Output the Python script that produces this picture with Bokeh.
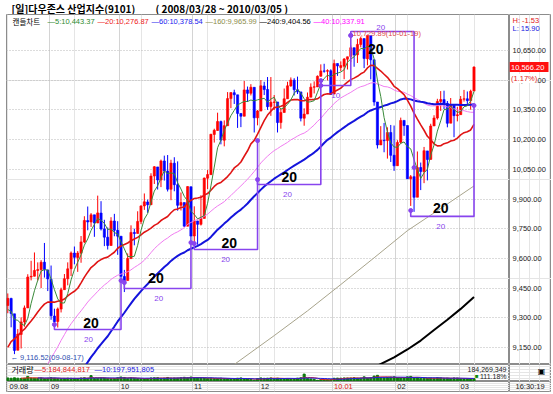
import numpy as np
from bokeh.plotting import figure
from bokeh.models import Range1d, FixedTicker, Grid, ColumnDataSource
from bokeh.layouts import column, row
from bokeh.core.properties import value
from bokeh.embed import file_html
from bokeh.resources import INLINE

# ---------------- data: Dow Jones Industrial Average, daily, 2009-08-13 .. 2010-03-05 ----------------
pre_close = [8504.08, 8474.85, 8422.04, 8292.13, 8277.32, 8473.49, 8300.02, 8403.80, 8500.33,
             8721.44, 8740.87, 8675.24, 8750.24, 8763.13, 8764.49, 8763.06, 8739.02, 8770.92, 8799.26,
             8612.13, 8504.67, 8497.18, 8555.60, 8539.73, 8339.01, 8322.91, 8299.86, 8472.40, 8438.39,
             8529.38, 8447.00,
             8504.06, 8280.74, 8324.87, 8163.60, 8178.41, 8183.17, 8146.52, 8331.68, 8359.49, 8616.21,
             8711.82, 8743.94, 8848.15, 8915.94, 8881.26, 9069.29, 9093.24, 9108.51, 9096.72, 9070.72,
             9154.46, 9171.61,
             9286.56, 9320.19, 9280.97, 9256.26, 9370.07, 9337.95, 9241.45, 9361.61]

close = [9398.19, 9321.40, 9135.34, 9217.94, 9279.16, 9350.05, 9505.96, 9509.28, 9539.29, 9543.52, 9580.63, 9544.20, 9496.28,
         9310.60, 9280.67, 9344.61, 9441.27, 9497.34, 9547.22, 9627.48, 9605.41, 9626.80, 9683.41, 9791.71, 9783.92, 9820.20,
         9778.86, 9829.87, 9748.55, 9707.44, 9665.19, 9789.36, 9742.20, 9712.28,
         9509.28, 9487.67, 9599.75, 9731.25, 9725.58, 9786.87, 9864.94, 9885.80, 9871.06, 10015.86, 10062.94, 9995.91,
         10092.19, 10041.48, 9949.36, 10081.31, 9972.18, 9867.96, 9882.17, 9762.69, 9962.58, 9712.73,
         9789.44, 9771.91, 9802.14, 10005.96, 10023.42, 10226.94, 10246.97, 10291.26, 10197.47, 10270.47, 10406.96,
         10437.42, 10426.31, 10332.44, 10318.16, 10450.95, 10433.71, 10464.40, 10309.92, 10344.84,
         10471.58, 10452.68, 10366.15, 10388.90, 10390.11, 10285.97, 10337.05, 10405.83, 10471.50, 10501.05, 10452.00,
         10441.12, 10308.26, 10328.89, 10414.14, 10464.93, 10466.44, 10520.10, 10547.08, 10545.41, 10548.51, 10428.05,
         10583.96, 10572.02, 10573.68, 10606.86, 10618.19, 10663.99, 10627.26, 10680.77, 10710.55, 10609.65, 10725.43,
         10603.15, 10389.88, 10172.98, 10196.86, 10194.29, 10236.16, 10120.46, 10067.33,
         10185.53, 10296.85, 10270.55, 10002.18, 10012.23, 9908.39, 10058.64, 10038.38, 10144.19, 10099.14, 10268.81,
         10309.24, 10392.90, 10402.35, 10383.38, 10282.41, 10374.16, 10321.03, 10325.26,
         10403.79, 10405.98, 10396.76, 10444.14, 10566.20]

open_ = [9362, 9398, 9320, 9136, 9216, 9279, 9350, 9506, 9510, 9539, 9543, 9581, 9542,
         9494, 9309, 9281, 9344, 9442, 9497, 9548, 9627, 9604, 9626, 9683, 9791, 9784, 9820, 9779, 9829, 9749, 9707,
         9665, 9789, 9742,
         9712, 9509, 9488, 9599, 9731, 9726, 9786, 9865, 9885, 9871, 10016, 10062, 9996, 10092, 10041, 9949, 10081,
         9972, 9868, 9882, 9763, 9962,
         9713, 9789, 9772, 9802, 10005, 10023, 10226, 10246, 10291, 10197, 10270, 10407, 10437, 10426, 10332, 10318,
         10451, 10434, 10464, 10310,
         10344, 10471, 10453, 10367, 10388, 10390, 10286, 10337, 10406, 10471, 10500, 10452, 10441, 10308, 10329,
         10414, 10465, 10466, 10520, 10547, 10545, 10548,
         10430, 10584, 10564, 10571, 10606, 10620, 10664, 10628, 10680, 10710, 10608, 10725, 10603, 10390, 10173,
         10197, 10195, 10236, 10121,
         10068, 10186, 10297, 10271, 10002, 10013, 9909, 10059, 10038, 10143, 10100, 10269, 10309, 10393, 10402,
         10383, 10283, 10374, 10321,
         10326, 10404, 10406, 10397, 10445]

high = [9423, 9401, 9320, 9243, 9302, 9362, 9520, 9588, 9630, 9580, 9591, 9678, 9542,
        9564, 9346, 9352, 9452, 9521, 9580, 9635, 9660, 9637, 9713, 9813, 9862, 9829, 9820, 9917, 9889, 9795, 9756,
        9808, 9825, 9788,
        9712, 9542, 9625, 9767, 9750, 9838, 9868, 9928, 9897, 10030, 10066, 10062, 10099, 10119, 10122, 10098, 10111,
        10090, 9933, 9882, 9964, 9962,
        9863, 9790, 9919, 10008, 10046, 10229, 10255, 10336, 10296, 10297, 10440, 10438, 10452, 10426, 10333, 10496,
        10468, 10480, 10464, 10349,
        10501, 10492, 10516, 10516, 10425, 10390, 10357, 10458, 10492, 10514, 10510, 10518, 10441, 10358, 10438,
        10484, 10494, 10524, 10580, 10583, 10555, 10555,
        10604, 10584, 10595, 10612, 10619, 10676, 10664, 10709, 10720, 10710, 10729.89, 10725, 10603, 10390, 10268,
        10284, 10262, 10274, 10271,
        10197, 10311, 10298, 10271, 10021, 10059, 10140, 10084, 10163, 10143, 10280, 10323, 10406, 10445, 10447,
        10395, 10410, 10374, 10366,
        10420, 10451, 10443, 10452, 10570]

low = [9323, 9252, 9116.52, 9136, 9145, 9255, 9349, 9489, 9509, 9488, 9450, 9503, 9435,
       9290, 9253, 9251, 9327, 9442, 9464, 9511, 9570, 9532, 9578, 9677, 9742, 9759, 9709, 9778, 9741, 9662, 9645,
       9664, 9712, 9618,
       9489, 9430, 9488, 9599, 9666, 9726, 9773, 9845, 9830, 9870, 9976, 9948, 9960, 9993, 9938, 9894, 9939,
       9841, 9842, 9760, 9762, 9679,
       9681, 9669, 9766, 9802, 9950, 10023, 10185, 10245, 10176, 10166, 10270, 10359, 10380, 10259, 10263, 10318,
       10390, 10423, 10236, 10272,
       10344, 10425, 10350, 10320, 10350, 10236, 10255, 10337, 10406, 10467, 10423, 10430, 10292, 10270, 10329,
       10414, 10433, 10466, 10518, 10538, 10499, 10428,
       10430, 10522, 10546, 10505, 10554, 10591, 10568, 10587, 10666, 10561, 10575, 10504, 10371, 10155, 10173,
       10136, 10104, 10087, 10042,
       10068, 10180, 10219, 10001, 9865, 9835.09, 9909, 9945, 9980, 9994, 10100, 10269, 10301, 10345, 10354,
       10262, 10283, 10212, 10292,
       10326, 10392, 10373, 10351, 10445]

volume_m = [230, 210, 240, 215, 200, 215, 330, 220, 215, 205, 225, 200, 215,
            245, 220, 195, 180, 200, 215, 205, 200, 195, 225, 240, 210, 380, 195, 210, 230, 220, 210, 185, 200, 240,
            290, 260, 200, 230, 210, 190, 180, 165, 200, 230, 240, 245, 200, 215, 260, 210, 225, 220, 240, 270, 240, 290,
            250, 240, 235, 220, 200, 215, 190, 200, 210, 195, 190, 175, 170, 210, 230, 175, 165, 140, 85, 190,
            230, 205, 215, 230, 190, 215, 190, 180, 195, 180, 190, 215, 240, 480, 190, 165, 140, 80, 120, 110, 115, 120,
            210, 220, 215, 230, 225, 225, 240, 215, 220, 300, 220, 240, 350, 400, 260, 240, 260, 280, 300,
            240, 230, 225, 300, 330, 250, 245, 200, 215, 210, 225, 210, 240, 230, 200, 215, 195, 225, 220,
            175, 190, 182, 193, 184.27]

# long moving averages (index of trading day, value)
ma160_i = [66, 80, 90, 100, 110, 120, 130, 140]
ma160_v = [9040, 9210, 9335, 9468, 9603, 9740, 9852, 9965.99]
ma240_i = [110, 116, 120, 124, 128, 132, 136, 140]
ma240_v = [9050, 9100, 9140, 9185, 9238, 9290, 9345, 9404.56]

month_start = [13, 34, 56, 76, 98, 117, 136]
month_labels = ["09.08", "09", "10", "11", "12", "10.01", "02", "03"]
price_ticks = [9150, 9300, 9450, 9600, 9750, 9900, 10050, 10200, 10350, 10500, 10650]
price_tick_labels = ["9,150.00", "9,300.00", "9,450.00", "9,600.00", "9,750.00", "9,900.00",
                     "10,050.00", "10,200.00", "10,350.00", "10,500.00", "10,650.00"]
last_price = 10566.20

# 20-day cycle brackets: start index, end index, start price, base price, end price
cyc_s = [14, 35, 56, 75, 94, 103, 121]
cyc_e = [34, 55, 75, 94, 103, 122, 140]
cyc_p0 = [9266, 9478, 9675, 9998, 10473, 10726, 9842]
cyc_base = [9241, 9448, 9645, 9973, 10473, 10746, 9812]
cyc_p1 = [9488, 9680, 10195, 10498, 10726, 10059, 10372]
big_x = [25, 44.5, 66.5, 84.5, 110.5, 130]
big_y = [9276, 9503, 9680, 10009, 10660, 9857]
small_x = [24.2, 45.3, 65.4, 84, 112, 130, 98.5]
small_y = [9190, 9397, 9594, 9923, 10766, 9761, 10423]
small_t = ["20", "20", "20", "20", "20", "20", "10"]

# ---------------- helpers for placement ----------------
X0, XS = 7.3, 3.33
def px2i(px):
    return (px - X0) / XS
def py2p(py):
    return 10650 - (py - 50) / 0.198

n = len(close)
idx = np.arange(n)
allc = np.array(pre_close + close)
npre = len(pre_close)
def ma(k):
    return [float(allc[npre + j - k + 1: npre + j + 1].mean()) for j in range(n)]
vol = np.array(volume_m) * 1e6
def vma(k):
    return [float(vol[j - k + 1: j + 1].mean()) if j >= k - 1 else float("nan") for j in range(n)]

FONT = "Liberation Sans"
KFONT = "Noto Sans CJK KR"
PURPLE = "#8844ee"
EDGE = "#8c8c8c"

x_range = Range1d(px2i(6), px2i(509))

def base_fig(h, yr, bottom=0):
    f = figure(width=509, height=h, x_range=x_range, y_range=yr, output_backend="svg",
               toolbar_location=None, x_axis_location=None, y_axis_location=None, title=None,
               min_border_left=6, min_border_right=0, min_border_top=0, min_border_bottom=bottom)
    f.outline_line_color = EDGE
    f.background_fill_color = "white"
    f.border_fill_color = "white"
    f.add_layout(Grid(dimension=0, ticker=FixedTicker(ticks=[m - 0.5 for m in month_start]),
                      grid_line_color="#d4d4d4", grid_line_width=1))
    return f

def side_fig(h, yr, bottom=0):
    f = figure(width=42, height=h, x_range=Range1d(0, 42), y_range=yr, output_backend="svg",
               toolbar_location=None, x_axis_location=None, y_axis_location=None, title=None,
               min_border_left=0, min_border_right=0, min_border_top=0, min_border_bottom=bottom)
    f.outline_line_color = EDGE
    f.background_fill_color = "white"
    f.border_fill_color = "white"
    return f

def txt(f, x, y, t, color="black", size="7.5px", font=FONT, align="left", style="normal"):
    f.text([x], [y], text=[t], text_font=value(font), text_font_size=size, text_color=color,
           text_align=align, text_baseline="middle", text_font_style=style)

# ---------------- title strip ----------------
tf = figure(width=553, height=14, x_range=Range1d(0, 553), y_range=Range1d(0, 14), output_backend="svg",
            toolbar_location=None, x_axis_location=None, y_axis_location=None, title=None,
            min_border_left=0, min_border_right=0, min_border_top=0, min_border_bottom=0)
tf.outline_line_color = None
tf.xgrid.visible = False
tf.ygrid.visible = False
txt(tf, 11, 6.5, "[일]다우존스 산업지수(9101)", size="10px", font=KFONT, style="bold")
txt(tf, 155, 6.5, "( 2008/03/28 ~ 2010/03/05 )", size="10px", font=KFONT, style="bold")

# ---------------- main price panel ----------------
y_price = Range1d(py2p(364), py2p(14))
p = base_fig(350, y_price)
p.add_layout(Grid(dimension=1, ticker=FixedTicker(ticks=price_ticks), grid_line_color="#b8b8b8",
                  grid_line_dash="1 2"))

o = np.array(open_, float); c = np.array(close); h = np.array(high, float); lo = np.array(low, float)
colors = ["#ff0000" if c[j] >= o[j] else "#0000ff" for j in range(n)]
src = ColumnDataSource(dict(x=idx, h=h, l=lo, top=np.maximum(o, c), bottom=np.minimum(o, c), color=colors))
p.segment(x0="x", y0="l", x1="x", y1="h", line_color="color", line_width=1, source=src)
p.vbar(x="x", width=0.66, top="top", bottom="bottom", fill_color="color", line_color="color",
       line_width=0.6, source=src)

p.line(ma160_i, ma160_v, line_color="#a8a48c", line_width=1)
p.line(ma240_i, ma240_v, line_color="black", line_width=2)
p.line(idx, ma(40), line_color="#f07cf0", line_width=1)
p.line(idx, ma(60), line_color="#1414dc", line_width=2)
p.line(idx, ma(20), line_color="#e01414", line_width=1.6)
p.line(idx, ma(5), line_color="#3a8a3a", line_width=1)

# cycle brackets
xs = [[s, s, e, e] for s, e in zip(cyc_s, cyc_e)]
ys = [[a, b, b, d] for a, b, d in zip(cyc_p0, cyc_base, cyc_p1)]
p.multi_line(xs, ys, line_color=PURPLE, line_width=1.6)
p.scatter(cyc_s + cyc_e, cyc_p0 + cyc_p1, size=4, color=PURPLE)
p.text(big_x, big_y, text=["20"] * len(big_x), text_font=value(FONT), text_font_size="14px",
       text_font_style="bold", text_color="black", text_align="center", text_baseline="middle")
p.text(small_x, small_y, text=small_t, text_font=value(FONT), text_font_size="8px",
       text_color=PURPLE, text_align="center", text_baseline="middle")

# extreme labels
txt(p, px2i(10), py2p(357), "\u2190 9,116.52(09-08-17)", color="#2f4fb0")
txt(p, px2i(352), py2p(33), "10,729.89(10-01-19)", color="#e04848")

# legend row
leg = [("캔들차트", 12, "black", KFONT), ("\u20145:10,443.37", 47, "#2e8b2e", FONT),
       ("\u201420:10,276.87", 97, "#ee2020", FONT), ("\u201460:10,378.54", 151, "#2020ee", FONT),
       ("\u2014160:9,965.99", 205, "#8c8c4c", FONT), ("\u2014240:9,404.56", 259, "black", FONT),
       ("\u201440:10,337.91", 313, "#ff00ff", FONT)]
for t, px, col, fnt in leg:
    txt(p, px2i(px), py2p(21), t, color=col, font=fnt)

# right price column (shares the price scale)
pr = side_fig(350, y_price)
pr.text([3] * len(price_ticks), price_ticks, text=price_tick_labels, text_font=value(FONT),
        text_font_size="7.5px", text_color="#222222", text_align="left", text_baseline="middle")
px_pt = 1 / 0.198
pr.quad(left=[0], right=[39], bottom=[last_price - 5 * px_pt], top=[last_price + 5 * px_pt],
        fill_color="#ff1010", line_color=None)
txt(pr, 1.5, last_price, "10,566.20", color="white")
pr.quad(left=[0.5], right=[27], bottom=[py2p(78) - 4.5 * px_pt], top=[py2p(78) + 4.5 * px_pt],
        fill_color="white", line_color=None)
txt(pr, 1.5, py2p(78), "(1.17%)", color="#e02020")
txt(pr, 3, py2p(20), "H: -1.53", color="#e02020")
txt(pr, 3, py2p(28), "L: 15.90", color="#2020e0")

# ---------------- volume panel ----------------
y_vol = Range1d(0, 1.1e9)
v = base_fig(17, y_vol)
v.vbar(x=idx, top=vol, width=0.62, color="#0a7a0a")
v.line(idx, vma(5), line_color="#e02020", line_width=1)
v.line(idx, vma(10), line_color="#2020e0", line_width=1)
vy = 1.1e9 * (1 - 5.0 / 17)
vy2 = 1.1e9 * (1 - 11.5 / 17)
txt(v, px2i(11), vy, "거래량", size="8px", font=KFONT)
txt(v, px2i(34), vy, "\u20145:184,844,817", color="#e02020")
txt(v, px2i(94), vy, "\u201410:197,951,805", color="#2020e0")
txt(v, px2i(506), vy, "184,269,349", color="#222222", size="7px", align="right")
txt(v, px2i(506), vy2, "111.18%", color="#222222", size="7px", align="right")
txt(v, px2i(478), vy2, "\u25a0", color="#0a8a0a", size="6px", align="right")
vr = side_fig(17, y_vol)
txt(vr, 32, 1.1e9 * 0.6, "\u25a3", size="8px", font="DejaVu Sans", align="center")

# ---------------- date row ----------------
d = base_fig(13, Range1d(0, 1), bottom=3)
label_x = [px2i(9)] + [m - 0.5 + 0.45 for m in month_start]
label_c = ["#e02020" if t == "10.01" else "#222222" for t in month_labels]
d.text(label_x, [0.5] * len(label_x), text=month_labels, text_font=value(FONT), text_font_size="7.5px",
       text_color=label_c, text_align="left", text_baseline="middle")
dr = side_fig(13, Range1d(0, 1), bottom=3)
txt(dr, 6, 0.5, "16:30:19", color="#222222")

layout = column(tf, row(p, pr), row(v, vr), row(d, dr))
open("out.html", "w").write(file_html(layout, INLINE))
